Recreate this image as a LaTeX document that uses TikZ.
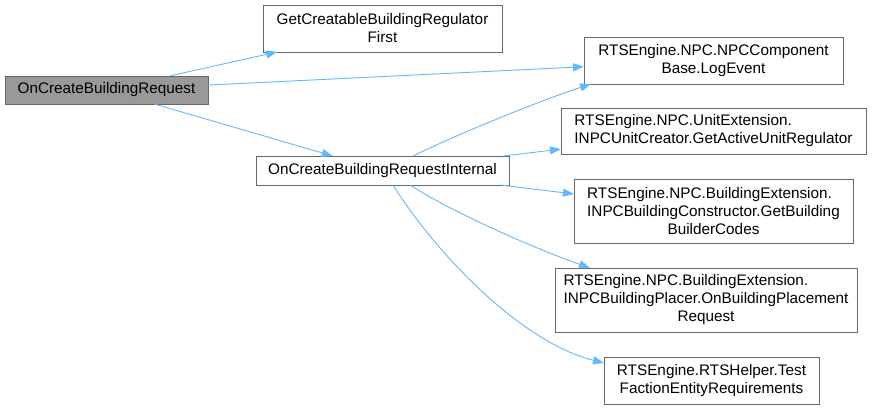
\documentclass[tikz,border=0pt]{standalone}
\usepackage{fontspec}
\setmainfont{Liberation Sans}
\usetikzlibrary{arrows.meta,calc}
\definecolor{edgeblue}{RGB}{99,184,255}
\definecolor{boxline}{RGB}{102,102,102}
\definecolor{boxfill}{RGB}{153,153,153}
\newlength\lftw
\newcommand\lftline[2]{\settowidth\lftw{#2}\makebox[\lftw][l]{#1}\\#2}
\tikzset{
  fn/.style={draw=boxline, line width=0.9pt, fill=white, inner sep=0pt, outer sep=0pt,
    font=\fontsize{15.3}{18}\selectfont, align=center},
  fncur/.style={fn, fill=boxfill},
  call/.style={draw=edgeblue, line width=0.9pt, -{Triangle[length=11pt,width=8pt]}}
}
\begin{document}
\begin{tikzpicture}[x=1pt,y=-1pt]
\useasboundingbox (0,0) rectangle (876,409);
\node[fncur, minimum width=203pt, minimum height=28pt] (A) at (106.5,90) {OnCreateBuildingRequest};
\node[fn, minimum width=239pt, minimum height=47pt] (B) at (382.5,28.5) {GetCreatableBuildingRegulator\\First};
\node[fn, minimum width=253pt, minimum height=29pt] (C) at (382.5,170.5) {OnCreateBuildingRequestInternal};
\node[fn, minimum width=259pt, minimum height=47pt] (D) at (713.5,60.5) {RTSEngine.NPC.NPCComponent\\Base.LogEvent};
\node[fn, minimum width=305pt, minimum height=46pt] (E) at (713.5,131) {\lftline{RTSEngine.NPC.UnitExtension.}{INPCUnitCreator.GetActiveUnitRegulator}};
\node[fn, minimum width=279pt, minimum height=64pt] (F) at (713.5,211) {\lftline{RTSEngine.NPC.BuildingExtension.}{INPCBuildingConstructor.GetBuilding}\\BuilderCodes};
\node[fn, minimum width=302pt, minimum height=64pt] (G) at (706,300) {\lftline{RTSEngine.NPC.BuildingExtension.}{INPCBuildingPlacer.OnBuildingPlacement}\\Request};
\node[fn, minimum width=215pt, minimum height=47pt] (H) at (711.5,380.5) {RTSEngine.RTSHelper.Test\\FactionEntityRequirements};

\draw[call] (A) -- (B);
\draw[call] (A) -- (D);
\draw[call] (A) -- (C);
\draw[call] ($(C.north)+(30.5,0)$) .. controls (445,140) and (530,104) .. ($(D.south west)+(7,0)$);
\draw[call] (C) -- (E);
\draw[call] (C) -- (F);
\draw[call] ($(C.south)+(27.5,0)$) .. controls (445,208) and (525,245) .. ($(G.north west)+(35,0)$);
\draw[call] ($(C.south)+(10.5,0)$) .. controls (435,252) and (520,342) .. ($(H.north west)+(0,6)$);
\end{tikzpicture}
\end{document}
